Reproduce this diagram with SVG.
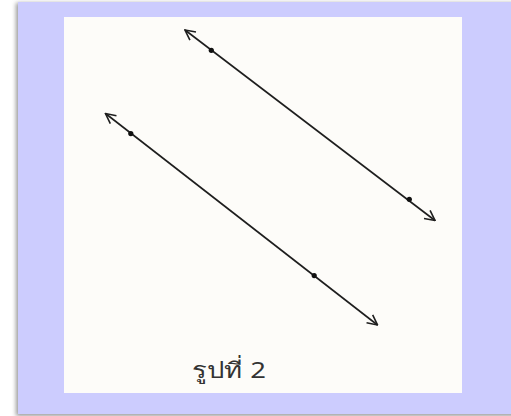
<svg xmlns="http://www.w3.org/2000/svg" width="511" height="416" viewBox="0 0 511 416">
<style>
.ln{stroke:#1e1e1e;stroke-width:1.6;fill:none}
.dot{fill:#111}
.lbl{font-family:"Noto Sans","Liberation Sans",sans-serif;font-size:22px;fill:#333}
</style>
<defs>
<filter id="sh" x="-5%" y="-5%" width="110%" height="110%"><feGaussianBlur stdDeviation="2"/></filter>
<marker id="ah" viewBox="0 0 12 12" refX="11" refY="6" markerWidth="12" markerHeight="12" markerUnits="userSpaceOnUse" orient="auto-start-reverse">
<path d="M1,1 L11,6 L1,11" fill="none" stroke="#1e1e1e" stroke-width="1.6"/>
</marker>
</defs>
<rect x="0" y="0" width="511" height="416" fill="#ffffff"/>
<rect x="16" y="3" width="500" height="413" fill="#999" filter="url(#sh)"/>
<rect x="18" y="2" width="493" height="412" fill="#ccccfe"/>
<rect x="64" y="17" width="398" height="376" fill="#fdfcf9"/>
<g id="connectors">
<line class="ln" x1="185" y1="30" x2="435" y2="220.5" marker-start="url(#ah)" marker-end="url(#ah)"/>
<line class="ln" x1="105.5" y1="113.5" x2="377.5" y2="325" marker-start="url(#ah)" marker-end="url(#ah)"/>
</g>
<g id="line1-points">
<circle class="dot" cx="211.3" cy="50.3" r="2.6"/>
<circle class="dot" cx="409.3" cy="199.3" r="2.6"/>
</g>
<g id="line2-points">
<circle class="dot" cx="130.8" cy="133.6" r="2.6"/>
<circle class="dot" cx="314.2" cy="275.6" r="2.6"/>
</g>
<g id="caption">
<text class="lbl" x="192" y="378" textLength="74" lengthAdjust="spacingAndGlyphs">รูปที่ 2</text>
</g>
</svg>
